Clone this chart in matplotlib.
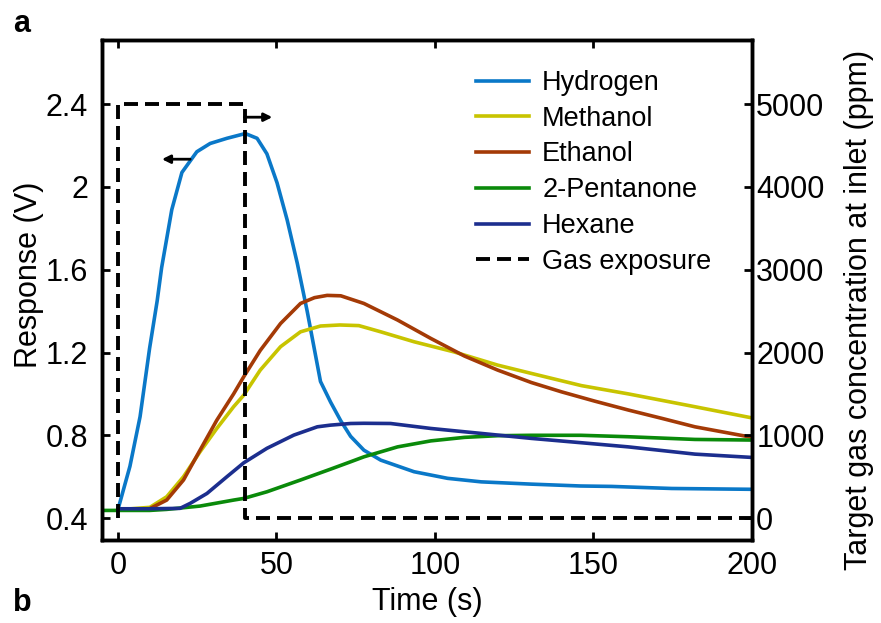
import matplotlib
matplotlib.use("Agg")
import matplotlib.pyplot as plt
from matplotlib.ticker import FixedLocator

plt.rcParams['font.family'] = ['Liberation Sans', 'DejaVu Sans']

# sensor response (V) against time (s), one pair of lists per gas
t_hydrogen = [0, 3.8, 7.0, 10.0, 12.4, 13.8, 17.0, 20.2, 24.9, 29.1, 34.4, 40.2, 43.9, 47.0,
              50.2, 53.4, 56.6, 59.7, 61.8, 63.9, 67.1, 70.3, 73.4, 77.6, 82.9, 93.4, 104.0,
              114.6, 130.4, 146.0, 155.7, 174.7, 200.0]
v_hydrogen = [0.44, 0.65, 0.89, 1.22, 1.45, 1.61, 1.89, 2.07, 2.17, 2.21, 2.235, 2.258, 2.235,
              2.16, 2.02, 1.84, 1.63, 1.40, 1.23, 1.06, 0.96, 0.87, 0.795, 0.728, 0.68, 0.624,
              0.592, 0.575, 0.564, 0.555, 0.553, 0.543, 0.539]

t_methanol = [0, 10.1, 15.4, 20.7, 25.9, 31.2, 36.5, 39.7, 44.9, 51.3, 57.6, 63.9, 70.0, 76.0,
              82.9, 93.4, 106.0, 119.8, 130.4, 146.2, 161.0, 182.0, 200.0]
v_methanol = [0.44, 0.452, 0.503, 0.60, 0.72, 0.833, 0.938, 0.994, 1.115, 1.228, 1.30, 1.328,
              1.333, 1.33, 1.30, 1.252, 1.203, 1.139, 1.099, 1.04, 1.0, 0.938, 0.884]

t_ethanol = [0, 10.0, 15.4, 20.7, 25.9, 31.2, 36.5, 39.7, 44.9, 51.3, 57.6, 62.0, 66.0, 70.3,
             77.6, 88.2, 98.7, 109.3, 119.8, 130.4, 139.9, 150.4, 161.0, 171.5, 182.0, 200.0]
v_ethanol = [0.44, 0.445, 0.487, 0.584, 0.728, 0.873, 1.0, 1.083, 1.21, 1.34, 1.437, 1.465,
             1.476, 1.474, 1.437, 1.357, 1.268, 1.183, 1.115, 1.055, 1.01, 0.965, 0.922, 0.882,
             0.841, 0.79]

t_pentanone = [-5, 0, 10.0, 15.4, 25.9, 36.5, 39.7, 47.0, 57.6, 67.0, 73.4, 77.6, 88.2, 98.7,
               109.3, 119.8, 130.4, 146.0, 161.0, 182.0, 200.0]
v_pentanone = [0.437, 0.437, 0.437, 0.442, 0.458, 0.487, 0.495, 0.527, 0.584, 0.636, 0.672,
               0.696, 0.744, 0.773, 0.79, 0.798, 0.80, 0.80, 0.793, 0.78, 0.777]

t_hexane = [0, 10.0, 19.6, 22.8, 28.1, 34.4, 39.7, 47.0, 55.5, 62.9, 67.0, 73.4, 77.6, 86.0,
            98.7, 114.6, 130.4, 146.2, 161.0, 182.0, 200.0]
v_hexane = [0.445, 0.445, 0.447, 0.471, 0.519, 0.60, 0.667, 0.737, 0.801, 0.841, 0.849, 0.857,
            0.858, 0.857, 0.833, 0.809, 0.785, 0.764, 0.744, 0.709, 0.693]

# target concentration at the inlet (ppm)
t_gas = [0, 0, 40, 40, 200]
c_gas = [0, 5000, 5000, 0, 0]

x_ticks = [0, 50, 100, 150, 200]
y_ticks = [0.4, 0.8, 1.2, 1.6, 2.0, 2.4]
y_tick_labels = ['0.4', '0.8', '1.2', '1.6', '2', '2.4']
c_ticks = [0, 1000, 2000, 3000, 4000, 5000]

fig = plt.figure(figsize=(8.81, 6.23), dpi=100)
ax = fig.add_axes([0.1158, 0.1332, 0.7378, 0.8026])

lw = 2.6
h1, = ax.plot(t_hydrogen, v_hydrogen, color='#0a78c8', lw=lw, label='Hydrogen')
h2, = ax.plot(t_methanol, v_methanol, color='#c8c400', lw=lw, label='Methanol')
h3, = ax.plot(t_ethanol, v_ethanol, color='#a43a06', lw=lw, label='Ethanol')
h4, = ax.plot(t_pentanone, v_pentanone, color='#0a8a0a', lw=lw, label='2-Pentanone')
h5, = ax.plot(t_hexane, v_hexane, color='#1c2e8e', lw=lw, label='Hexane')

ax.set_xlim(-5, 200)
ax.set_ylim(0.294, 2.71)

ax2 = ax.twinx()
h6, = ax2.plot(t_gas, c_gas, color='black', lw=2.8, dashes=(3.6, 1.8), label='Gas exposure')
ax2.set_ylim((0.294 - 0.4) * 2500, (2.71 - 0.4) * 2500)

fs = 22
ax.xaxis.set_major_locator(FixedLocator(x_ticks))
ax.set_yticks(y_ticks)
ax.set_yticklabels(y_tick_labels)
ax2.set_yticks(c_ticks)

ax.tick_params(axis='both', direction='in', length=6, width=2, labelsize=fs, pad=8,
               top=True)
ax.tick_params(axis='y', right=False, pad=10)
ax2.tick_params(axis='y', direction='in', length=6, width=2, labelsize=fs, pad=3)

for a in (ax, ax2):
    for s in a.spines.values():
        s.set_linewidth(2.5)

ax.set_xlabel('Time (s)', fontsize=fs, labelpad=4)
ax.set_ylabel('Response (V)', fontsize=fs)
ax.yaxis.set_label_coords(-0.09, 0.53)
ax2.set_ylabel('Target gas concentration at inlet (ppm)', fontsize=fs)
ax2.yaxis.set_label_coords(1.142, 0.46)

# arrows pointing each curve to its axis
ax.annotate('', xy=(13.9, 2.134), xytext=(22.8, 2.134),
            arrowprops=dict(arrowstyle='-|>', color='black', lw=2, mutation_scale=12,
                            shrinkA=0, shrinkB=0))
ax.annotate('', xy=(48.7, 2.337), xytext=(39.9, 2.337),
            arrowprops=dict(arrowstyle='-|>', color='black', lw=2, mutation_scale=12,
                            shrinkA=0, shrinkB=0))

ax2.legend(handles=[h1, h2, h3, h4, h5, h6], loc='upper left', bbox_to_anchor=(0.575, 0.94),
           frameon=False, fontsize=19.5, handlelength=1.95, handletextpad=0.5,
           labelspacing=0.36, borderaxespad=0, borderpad=0)

fig.text(0.015, 0.962, 'a', fontsize=22, fontweight='bold', va='center')
fig.text(0.015, 0.032, 'b', fontsize=22, fontweight='bold', va='center')

fig.savefig('out.png', dpi=100)
